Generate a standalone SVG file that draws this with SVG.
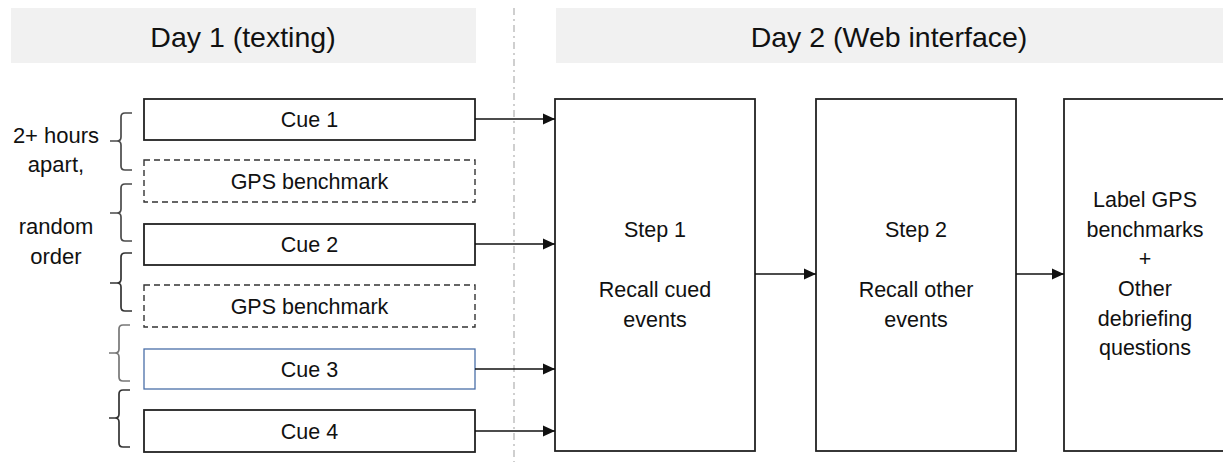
<svg xmlns="http://www.w3.org/2000/svg" width="1223" height="462" viewBox="0 0 1223 462">
<style>
text{font-family:"Liberation Sans",Arial,sans-serif;fill:#111;text-anchor:middle}
.hd{font-size:28.5px}
.t{font-size:21.5px}
.s{font-size:22px}
.box{fill:#fff;stroke:#222;stroke-width:1.8}
.dbox{fill:#fff;stroke:#333;stroke-width:1.4;stroke-dasharray:6 4}
.bar{fill:#f1f1f1}
.br{fill:none;stroke:#333;stroke-width:1.7}
.con{stroke:#111;stroke-width:1.6;fill:none;marker-end:url(#ah)}
</style>
<defs>
<marker id="ah" viewBox="0 0 12 12" refX="12" refY="6" markerWidth="12" markerHeight="12" markerUnits="userSpaceOnUse" orient="auto">
<path d="M0,0.5 L12,6 L0,11.5 Z" fill="#111"/>
</marker>
</defs>
<rect width="1223" height="462" fill="#fff"/>
<line x1="514" y1="8" x2="514" y2="462" stroke="#b0b0b0" stroke-width="1.2" stroke-dasharray="7 4 2 4"/>
<g id="header1"><rect class="bar" x="11" y="8" width="465" height="55"/><text class="hd" x="243" y="47">Day 1 (texting)</text></g>
<g id="header2"><rect class="bar" x="556" y="8" width="667" height="55"/><text class="hd" x="889" y="47">Day 2 (Web interface)</text></g>
<g id="side-label">
<text class="s" x="56" y="143">2+ hours</text>
<text class="s" x="56" y="172">apart,</text>
<text class="s" x="56" y="234">random</text>
<text class="s" x="56" y="264">order</text>
</g>
<g id="braces">
<path class="br" d="M132,113 L125,113 Q121,113 121,117 L121,137 Q121,141 117,141 L110,141 L117,141 Q121,141 121,145 L121,166 Q121,170 125,170 L132,170" style="stroke:#4a4a4a"/>
<path class="br" d="M132,184 L125,184 Q121,184 121,188 L121,209 Q121,213 117,213 L110,213 L117,213 Q121,213 121,217 L121,237 Q121,241 125,241 L132,241" style="stroke:#4a4a4a"/>
<path class="br" d="M132,253 L125,253 Q121,253 121,257 L121,279 Q121,283 117,283 L110,283 L117,283 Q121,283 121,287 L121,307 Q121,311 125,311 L132,311"/>
<path class="br" d="M130,325 L123,325 Q119,325 119,329 L119,349 Q119,353 115,353 L109,353 L115,353 Q119,353 119,357 L119,377 Q119,381 123,381 L130,381" style="stroke:#777"/>
<path class="br" d="M130,390 L123,390 Q119,390 119,394 L119,414 Q119,418 115,418 L109,418 L115,418 Q119,418 119,422 L119,443 Q119,447 123,447 L130,447"/>
</g>
<g id="cue1"><rect class="box" x="144" y="99" width="331" height="41"/><text class="t" x="309.5" y="127">Cue 1</text></g>
<g id="gps1"><rect class="dbox" x="144" y="160" width="331" height="42"/><text class="t" x="309.5" y="189">GPS benchmark</text></g>
<g id="cue2"><rect class="box" x="144" y="224" width="331" height="41"/><text class="t" x="309.5" y="252">Cue 2</text></g>
<g id="gps2"><rect class="dbox" x="144" y="285" width="331" height="42"/><text class="t" x="309.5" y="314">GPS benchmark</text></g>
<g id="cue3"><rect class="box" x="144" y="349" width="331" height="40" style="stroke:#4a6fa8;stroke-width:1.3"/><text class="t" x="309.5" y="377">Cue 3</text></g>
<g id="cue4"><rect class="box" x="144" y="410" width="331" height="42"/><text class="t" x="309.5" y="439">Cue 4</text></g>
<g id="step1"><rect class="box" x="555" y="99" width="200" height="352"/>
<text class="t" x="655" y="237">Step 1</text><text class="t" x="655" y="297">Recall cued</text><text class="t" x="655" y="327">events</text></g>
<g id="step2"><rect class="box" x="816" y="99" width="200" height="352"/>
<text class="t" x="916" y="237">Step 2</text><text class="t" x="916" y="297">Recall other</text><text class="t" x="916" y="327">events</text></g>
<g id="step3"><rect class="box" x="1064" y="99" width="170" height="352"/>
<text class="t" x="1145" y="207">Label GPS</text><text class="t" x="1145" y="237">benchmarks</text><text class="t" x="1145" y="266">+</text><text class="t" x="1145" y="296">Other</text><text class="t" x="1145" y="326">debriefing</text><text class="t" x="1145" y="355">questions</text></g>
<g id="connectors">
<line class="con" x1="475" y1="119" x2="555" y2="119"/>
<line class="con" x1="475" y1="244" x2="555" y2="244"/>
<line class="con" x1="475" y1="369" x2="555" y2="369"/>
<line class="con" x1="475" y1="431" x2="555" y2="431"/>
<line class="con" x1="755" y1="274" x2="816" y2="274"/>
<line class="con" x1="1016" y1="274" x2="1064" y2="274"/>
</g>
</svg>
